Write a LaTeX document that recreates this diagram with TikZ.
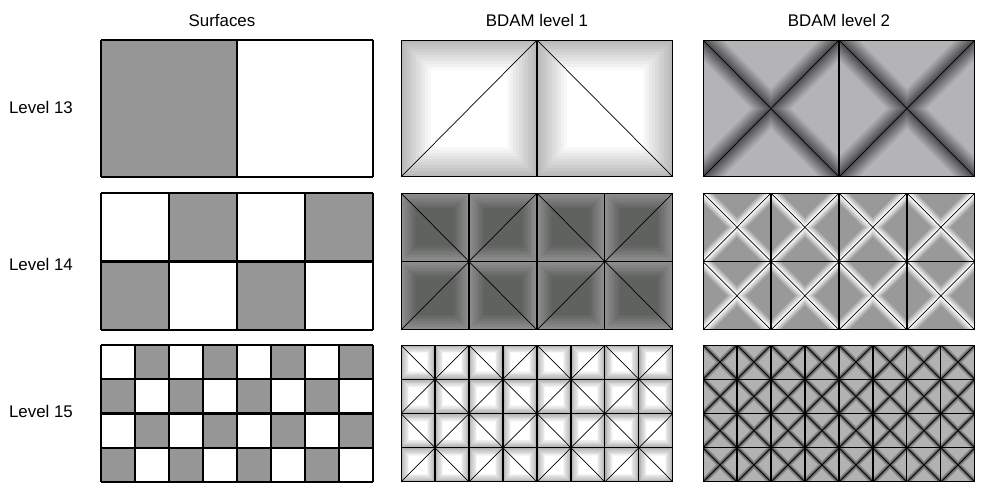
\documentclass[tikz,border=0pt]{standalone}
\usepackage{fontspec}
\setmainfont{Liberation Sans}
\usetikzlibrary{positioning}

\definecolor{surfgray}{RGB}{150,150,150}
\definecolor{frameA}{RGB}{185,185,185}
\definecolor{frameB}{RGB}{142,142,142}
\definecolor{coreB}{RGB}{95,98,95}
\definecolor{frameC}{RGB}{175,175,175}
\definecolor{bgA}{RGB}{180,179,182}
\definecolor{glowA}{RGB}{80,80,82}
\definecolor{bgB}{RGB}{153,153,153}
\definecolor{bgC}{RGB}{178,178,178}
\definecolor{glowC}{RGB}{80,80,80}

\tikzset{
  lbl/.style={font=\fontsize{9.6}{11.5}\selectfont, inner sep=1pt},
  surfline/.style={line width=1.2pt, black},
  gridline/.style={line width=0.6pt, black},
  diagline/.style={line width=0.4pt, black}
}

% checkerboard panel: #1,#2 top-left (px), #3 x #4 cells
\newcommand{\surfpanel}[4]{%
  \pgfmathsetmacro\sx{5.44/#3}\pgfmathsetmacro\sy{2.74/#4}%
  \pgfmathtruncatemacro\nxm{#3-1}\pgfmathtruncatemacro\nym{#4-1}%
  \begin{scope}[shift={(#1,#2+137)}, x=\sx cm, y=\sy cm]
    \foreach \i in {0,...,\nxm} \foreach \j in {0,...,\nym} {
      \pgfmathtruncatemacro\pc{\i+\j}
      \ifodd\pc\else\fill[surfgray] (\i,\j) rectangle ++(1,1);\fi
    }
    \draw[surfline] (0,0) grid[step=1] (#3,#4);
  \end{scope}}

% BDAM level 1 panel: #5 edge colour, #6 core colour, #7 band (cell fraction)
\newcommand{\bdamone}[7]{%
  \pgfmathsetmacro\sx{5.44/#3}\pgfmathsetmacro\sy{2.74/#4}%
  \pgfmathtruncatemacro\nxm{#3-1}\pgfmathtruncatemacro\nym{#4-1}%
  \pgfmathtruncatemacro\alo{1-#4}\pgfmathtruncatemacro\ahi{#3-1}%
  \pgfmathtruncatemacro\bhi{#3+#4-1}%
  \begin{scope}[shift={(#1,#2+137)}, x=\sx cm, y=\sy cm]
    % frame shading of every cell
    \foreach \i in {0,...,\nxm} \foreach \j in {0,...,\nym} \foreach \k in {0,...,10} {
      \pgfmathsetmacro\dd{#7*\k/10}
      \pgfmathtruncatemacro\pc{10*\k}
      \fill[#6!\pc!#5] (\i+\dd,\j+\dd) rectangle (\i+1-\dd,\j+1-\dd);
    }
    \clip (0,0) rectangle (#3,#4);
    % one diagonal per cell
    \foreach \cc in {\alo,...,\ahi} {\ifodd\cc\else\draw[diagline] (\cc,0) -- ++(#4,#4);\fi}
    \foreach \cc in {1,...,\bhi} {\ifodd\cc\else\draw[diagline] (\cc,0) -- ++(-#4,#4);\fi}
    \draw[gridline] (0,0) grid[step=1] (#3,#4);
  \end{scope}}

% BDAM level 2 panel: #5 background, #6 glow colour, #7 glow half width (pt)
\newcommand{\bdamtwo}[7]{%
  \pgfmathsetmacro\sx{5.44/#3}\pgfmathsetmacro\sy{2.74/#4}%
  \pgfmathtruncatemacro\alo{1-#4}\pgfmathtruncatemacro\ahi{#3-1}%
  \pgfmathtruncatemacro\bhi{#3+#4-1}%
  \begin{scope}[shift={(#1,#2+137)}, x=\sx cm, y=\sy cm]
    \fill[#5] (0,0) rectangle (#3,#4);
    \clip (0,0) rectangle (#3,#4);
    % glow along both diagonals
    \foreach \k in {1,...,10} {
      \pgfmathsetmacro\w{#7*(11-\k)/5}
      \pgfmathtruncatemacro\pc{10*\k}
      \foreach \cc in {\alo,...,\ahi} \draw[line width=\w pt, #6!\pc!#5] (\cc,0) -- ++(#4,#4);
      \foreach \cc in {1,...,\bhi} \draw[line width=\w pt, #6!\pc!#5] (\cc,0) -- ++(-#4,#4);
    }
    \foreach \cc in {\alo,...,\ahi} \draw[diagline] (\cc,0) -- ++(#4,#4);
    \foreach \cc in {1,...,\bhi} \draw[diagline] (\cc,0) -- ++(-#4,#4);
    \draw[gridline] (0,0) grid[step=1] (#3,#4);
  \end{scope}}

\begin{document}
\begin{tikzpicture}[x=0.02cm, y=-0.02cm]
\useasboundingbox (0,0) rectangle (1000,492);
% column heads
\node[lbl] (surf) at (222,20) {Surfaces};
\node[lbl] (bdam1) at (537,20) {BDAM level 1};
\node[lbl] (bdam2) at (839,20) {BDAM level 2};
% row heads
\foreach \l/\y in {13/107,14/264,15/411}
  \node[lbl, anchor=west] (lev\l) at (7,\y) {Level \l};
% surfaces
\surfpanel{101}{40}{2}{1}
\surfpanel{101}{193}{4}{2}
\surfpanel{101}{345}{8}{4}
% BDAM level 1
\bdamone{401}{40}{2}{1}{frameA}{white}{0.22}
\bdamone{401}{193}{4}{2}{frameB}{coreB}{0.22}
\bdamone{401}{345}{8}{4}{frameC}{white}{0.24}
% BDAM level 2
\bdamtwo{703}{40}{2}{1}{bgA}{glowA}{8}
\bdamtwo{703}{193}{4}{2}{bgB}{white}{4}
\bdamtwo{703}{345}{8}{4}{bgC}{glowC}{1.8}
\end{tikzpicture}
\end{document}
